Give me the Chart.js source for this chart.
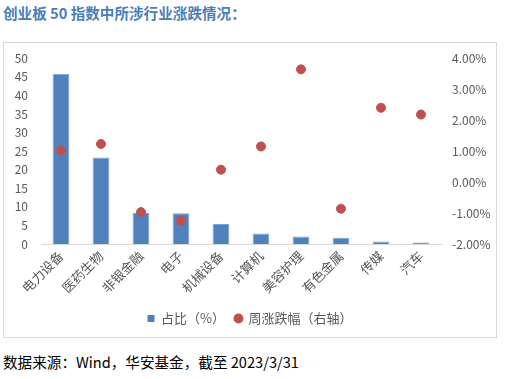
<!DOCTYPE html>
<html><head><meta charset="utf-8">
<script src="https://cdn.jsdelivr.net/npm/chart.js@4"></script>
<style>
body{margin:0;width:509px;height:379px;background:#fff;position:relative;overflow:hidden;font-family:"Noto Sans CJK SC","Noto Sans",sans-serif;}
#title{position:absolute;left:3px;top:2px;font-size:14.6px;font-weight:bold;color:#4a7ebb;white-space:nowrap;}
#box{position:absolute;left:3px;top:42px;width:492px;height:294px;border:1px solid #d9d9d9;}
#c{position:absolute;left:0;top:-5px;}
#note{position:absolute;left:3px;top:351px;font-size:14.6px;color:#000;white-space:nowrap;}
</style></head><body>
<div id="title">创业板 50 指数中所涉行业涨跌情况：</div>
<div id="box"><canvas id="c" width="492" height="299"></canvas></div>
<div id="note">数据来源：Wind，华安基金，截至 2023/3/31</div>
<script>
const categories=["电力设备","医药生物","非银金融","电子","机械设备","计算机","美容护理","有色金属","传媒","汽车"];
const shareValues=[45.8,23.3,8.4,8.3,5.4,2.8,2.0,1.7,0.7,0.4];
const weeklyChange=[1.02,1.23,-0.97,-1.25,0.40,1.15,3.64,-0.86,2.40,2.18];
const seriesNames=["占比（%）","周涨跌幅（右轴）"];
const tickFont={family:"'Noto Sans CJK SC','Noto Sans',sans-serif",size:12};
new Chart(document.getElementById('c'),{
  data:{labels:categories,datasets:[
    {type:'bar',label:seriesNames[0],data:shareValues,yAxisID:'y',backgroundColor:'#4f81bd',borderColor:'#7da3d4',borderWidth:1,barPercentage:0.42,categoryPercentage:1,order:2},
    {type:'scatter',label:seriesNames[1],data:weeklyChange,yAxisID:'y1',backgroundColor:'#c0504d',borderColor:'#c0504d',pointRadius:4.5,pointHoverRadius:4.5,showLine:false,order:1}
  ]},
  options:{responsive:false,animation:false,devicePixelRatio:1,
    layout:{padding:{top:3,bottom:2,left:0,right:0}},
    plugins:{tooltip:{enabled:false},
      legend:{position:'bottom',labels:{usePointStyle:true,boxWidth:7,boxHeight:7,padding:10,color:'#595959',font:{family:"'Noto Sans CJK SC',sans-serif",size:13},
        generateLabels(chart){return chart.data.datasets.map((d,i)=>({text:d.label,fillStyle:d.backgroundColor,strokeStyle:d.backgroundColor,lineWidth:0,pointStyle:i===0?'rect':'circle',datasetIndex:i,fontColor:'#595959'}));}}}},
    scales:{
      x:{type:'category',offset:true,grid:{display:false,drawTicks:false},border:{color:'#d9d9d9'},
        ticks:{color:'#595959',font:{family:"'Noto Sans CJK SC',sans-serif",size:13},minRotation:45,maxRotation:45,autoSkip:false,padding:4},
        afterFit(s){s.height=58;}},
      y:{position:'left',min:0,max:50,grid:{display:false,drawTicks:false},border:{display:false},
        ticks:{stepSize:5,autoSkip:false,color:'#595959',font:tickFont,padding:13},afterFit(s){s.width=37;}},
      y1:{position:'right',min:-2,max:4,grid:{display:false,drawTicks:false},border:{display:false},
        ticks:{stepSize:1,autoSkip:false,color:'#595959',font:tickFont,padding:11,callback:v=>v.toFixed(2)+'%'},afterFit(s){s.width=55;}}
    }}
});
</script></body></html>
